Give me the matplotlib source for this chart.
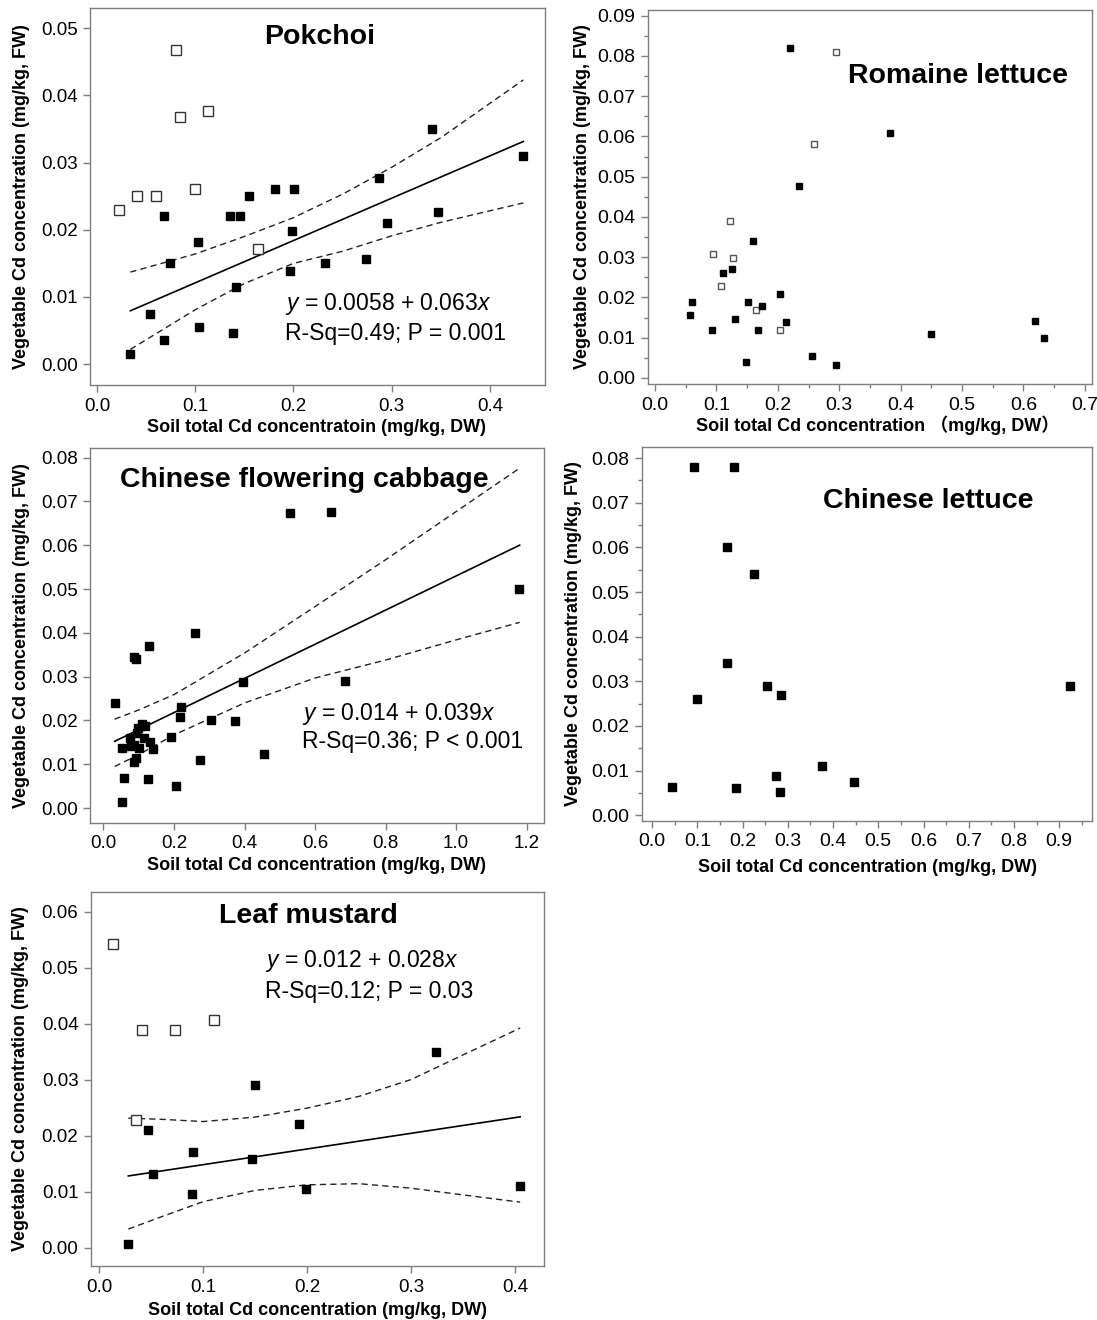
import numpy as np
import matplotlib
matplotlib.use("Agg")
from matplotlib import pyplot as plt
from matplotlib.ticker import MultipleLocator

plt.rcParams['font.family'] = ['Liberation Sans', 'Noto Sans CJK SC', 'DejaVu Sans']
plt.rcParams['mathtext.fontset'] = 'custom'
plt.rcParams['mathtext.rm'] = 'Liberation Sans'
plt.rcParams['mathtext.it'] = 'Liberation Sans:italic'

# ---- Pokchoi ----
pk_open_x = [0.022, 0.041, 0.060, 0.080, 0.084, 0.113, 0.100, 0.164]
pk_open_y = [0.023, 0.025, 0.025, 0.0467, 0.0368, 0.0377, 0.026, 0.0171]
pk_x = [0.034, 0.054, 0.068, 0.068, 0.074, 0.103, 0.104, 0.135, 0.138, 0.141, 0.146, 0.155,
        0.181, 0.201, 0.198, 0.196, 0.232, 0.274, 0.287, 0.295, 0.341, 0.347, 0.434]
pk_y = [0.0015, 0.0075, 0.022, 0.0036, 0.015, 0.0182, 0.0056, 0.022, 0.0047, 0.0115, 0.022, 0.025,
        0.026, 0.026, 0.0198, 0.0138, 0.015, 0.0156, 0.0277, 0.021, 0.035, 0.0227, 0.031]
pk_fit = (0.0058, 0.063)
pk_band_x = [0.034, 0.1, 0.15, 0.2, 0.25, 0.3, 0.35, 0.434]
pk_band_hi = [0.0137, 0.0164, 0.0190, 0.0218, 0.0253, 0.0293, 0.0337, 0.0423]
pk_band_lo = [0.0022, 0.0081, 0.0120, 0.0150, 0.0168, 0.0191, 0.0211, 0.0240]

# ---- Romaine lettuce ----
rl_open_x = [0.294, 0.259, 0.122, 0.095, 0.127, 0.108, 0.165, 0.203]
rl_open_y = [0.0809, 0.058, 0.039, 0.0309, 0.0299, 0.0229, 0.0169, 0.012]
rl_x = [0.220, 0.383, 0.234, 0.160, 0.111, 0.126, 0.061, 0.057, 0.093, 0.131, 0.152,
        0.174, 0.203, 0.167, 0.213, 0.149, 0.255, 0.294, 0.450, 0.619, 0.633]
rl_y = [0.0819, 0.0609, 0.0476, 0.0339, 0.026, 0.027, 0.0189, 0.0157, 0.012, 0.0146, 0.0189,
        0.0179, 0.0209, 0.012, 0.014, 0.0039, 0.0055, 0.0033, 0.011, 0.0142, 0.0099]

# ---- Chinese flowering cabbage ----
cf_x = [0.032, 0.054, 0.058, 0.054, 0.078, 0.076, 0.086, 0.091, 0.086, 0.091, 0.086, 0.094,
        0.098, 0.102, 0.110, 0.118, 0.116, 0.131, 0.140, 0.130, 0.127, 0.192, 0.207, 0.217,
        0.220, 0.260, 0.275, 0.306, 0.373, 0.397, 0.456, 0.530, 0.644, 0.686, 1.178]
cf_y = [0.024, 0.0013, 0.0068, 0.0137, 0.0141, 0.016, 0.0346, 0.0341, 0.0105, 0.0114, 0.0144,
        0.0171, 0.0183, 0.0137, 0.0192, 0.0188, 0.016, 0.0152, 0.0134, 0.0369, 0.0066, 0.0162,
        0.005, 0.0209, 0.023, 0.040, 0.0109, 0.0202, 0.0199, 0.0287, 0.0123, 0.0674, 0.0677,
        0.029, 0.050]
cf_fit = (0.014, 0.039)
cf_band_x = [0.032, 0.1, 0.2, 0.4, 0.6, 0.8, 1.0, 1.18]
cf_band_hi = [0.0203, 0.0224, 0.0259, 0.0354, 0.0460, 0.0567, 0.0677, 0.0776]
cf_band_lo = [0.0095, 0.0122, 0.0167, 0.0240, 0.0297, 0.0338, 0.0384, 0.0424]

# ---- Chinese lettuce ----
cl_x = [0.093, 0.181, 0.166, 0.225, 0.165, 0.100, 0.255, 0.286, 0.923, 0.043, 0.185,
        0.273, 0.283, 0.375, 0.446]
cl_y = [0.078, 0.078, 0.060, 0.054, 0.034, 0.026, 0.0289, 0.027, 0.0289, 0.0064, 0.0061,
        0.0088, 0.0051, 0.011, 0.0075]

# ---- Leaf mustard ----
lm_open_x = [0.0128, 0.0415, 0.0725, 0.1106, 0.035]
lm_open_y = [0.0542, 0.0389, 0.0388, 0.0407, 0.0228]
lm_x = [0.0277, 0.047, 0.052, 0.090, 0.089, 0.147, 0.150, 0.192, 0.199, 0.324, 0.405]
lm_y = [0.00065, 0.021, 0.0132, 0.017, 0.0095, 0.0158, 0.029, 0.022, 0.0105, 0.035, 0.011]
lm_fit = (0.012, 0.028)
lm_band_x = [0.028, 0.06, 0.1, 0.15, 0.2, 0.25, 0.3, 0.35, 0.405]
lm_band_hi = [0.0231, 0.0229, 0.0225, 0.0233, 0.0249, 0.0270, 0.0300, 0.0344, 0.0392]
lm_band_lo = [0.0033, 0.0055, 0.0082, 0.0102, 0.0112, 0.0114, 0.0106, 0.0094, 0.0081]

W, H = 1097, 1320
fig = plt.figure(figsize=(W / 100, H / 100), dpi=100)
edge = '#7f7f7f'
ylab = 'Vegetable Cd concentration (mg/kg, FW)'


def panel(box, xlim, ylim, xmaj, ymaj, minor=False, tsize=13.5):
    l, t, r, b = box
    ax = fig.add_axes([l / W, 1 - b / H, (r - l) / W, (b - t) / H])
    ax.set_xlim(*xlim)
    ax.set_ylim(*ylim)
    ax.xaxis.set_major_locator(MultipleLocator(xmaj))
    ax.yaxis.set_major_locator(MultipleLocator(ymaj))
    if minor:
        ax.xaxis.set_minor_locator(MultipleLocator(xmaj / 2))
        ax.yaxis.set_minor_locator(MultipleLocator(ymaj / 2))
    for s in ax.spines.values():
        s.set_color(edge)
        s.set_linewidth(1.0)
    ax.tick_params(direction='out', length=5, width=1, color=edge, labelsize=tsize, pad=4)
    ax.tick_params(which='minor', direction='out', length=3, width=1, color=edge)
    ax.yaxis.set_major_formatter(matplotlib.ticker.FormatStrFormatter('%.2f'))
    ax.xaxis.set_major_formatter(matplotlib.ticker.FormatStrFormatter('%.1f'))
    return ax


def labels(ax, xlabel, xl, yl, family=None):
    kw = {} if family is None else {'family': family}
    ax.set_xlabel(xlabel, fontsize=13, fontweight='bold', va='center', **kw)
    ax.set_ylabel(ylab, fontsize=13, fontweight='bold', va='center')
    ax.xaxis.set_label_coords(xl[0], xl[1])
    ax.yaxis.set_label_coords(yl, 0.5)


def fitlines(ax, fit, bx, hi, lo):
    xs = np.array([bx[0], bx[-1]])
    ax.plot(xs, fit[0] + fit[1] * xs, color='black', lw=1.2, zorder=2)
    ax.plot(bx, hi, color='#222222', lw=1.0, ls=(0, (4.5, 3)), zorder=2)
    ax.plot(bx, lo, color='#222222', lw=1.0, ls=(0, (4.5, 3)), zorder=2)


def filled(ax, x, y, ms=6):
    ax.plot(x, y, 's', color='black', ms=ms, zorder=3)


def hollow(ax, x, y, ms=6.5, ec='#333333'):
    ax.plot(x, y, 's', mfc='white', mec=ec, mew=1.0, ms=ms, zorder=3)


def title(ax, txt, x, y):
    ax.text(x, y, txt, transform=ax.transAxes, ha='center', va='baseline',
            fontsize=20.5, fontweight='bold')


def eqn(ax, a, b, stats, x, y1, y2):
    ax.text(x, y1, r'$\it{y}$' + ' = %s + %s' % (a, b) + r'$\it{x}$', transform=ax.transAxes,
            ha='left', va='baseline', fontsize=16.5)
    ax.text(x, y2, stats, transform=ax.transAxes, ha='left', va='baseline', fontsize=16.5)


# Pokchoi
ax = panel((90, 8, 545, 385), (-0.0071, 0.456), (-0.0031, 0.053), 0.1, 0.01)
fitlines(ax, pk_fit, pk_band_x, pk_band_hi, pk_band_lo)
hollow(ax, pk_open_x, pk_open_y)
filled(ax, pk_x, pk_y)
title(ax, 'Pokchoi', 0.505, 0.904)
eqn(ax, '0.0058', '0.063', 'R-Sq=0.49; P = 0.001', 0.4286, 0.199, 0.119)
labels(ax, 'Soil total Cd concentratoin (mg/kg, DW)', (0.498, -0.114), -0.15)

# Romaine lettuce
ax = panel((648, 10, 1092, 384), (-0.0114, 0.7117), (-0.0015, 0.0914), 0.1, 0.01, minor=True,
           tsize=14)
hollow(ax, rl_open_x, rl_open_y, ms=5, ec='#555555')
filled(ax, rl_x, rl_y, ms=5)
title(ax, 'Romaine lettuce', 0.698, 0.805)
labels(ax, 'Soil total Cd concentration \uff08mg/kg, DW\uff09', (0.518, -0.11), -0.147,
       family=['Liberation Sans', 'Noto Sans CJK SC'])

# Chinese flowering cabbage
ax = panel((90, 448, 544, 823), (-0.038, 1.249), (-0.0034, 0.0822), 0.2, 0.01)
fitlines(ax, cf_fit, cf_band_x, cf_band_hi, cf_band_lo)
filled(ax, cf_x, cf_y)
title(ax, 'Chinese flowering cabbage', 0.471, 0.896)
eqn(ax, '0.014', '0.039', 'R-Sq=0.36; P < 0.001', 0.467, 0.275, 0.2)
labels(ax, 'Soil total Cd concentration (mg/kg, DW)', (0.498, -0.112), -0.151)

# Chinese lettuce
ax = panel((642, 447, 1092, 821), (-0.0223, 0.9724), (-0.0013, 0.0825), 0.1, 0.01, minor=True,
           tsize=14)
filled(ax, cl_x, cl_y, ms=5.5)
title(ax, 'Chinese lettuce', 0.636, 0.837)
labels(ax, 'Soil total Cd concentration (mg/kg, DW)', (0.501, -0.123), -0.153)

# Leaf mustard
ax = panel((91, 892, 544, 1266), (-0.0079, 0.4279), (-0.0033, 0.0635), 0.1, 0.01)
fitlines(ax, lm_fit, lm_band_x, lm_band_hi, lm_band_lo)
hollow(ax, lm_open_x, lm_open_y)
filled(ax, lm_x, lm_y)
title(ax, 'Leaf mustard', 0.479, 0.917)
eqn(ax, '0.012', '0.028', 'R-Sq=0.12; P = 0.03', 0.385, 0.80, 0.717)
labels(ax, 'Soil total Cd concentration (mg/kg, DW)', (0.499, -0.118), -0.155)

fig.savefig('out.png', dpi=100)
